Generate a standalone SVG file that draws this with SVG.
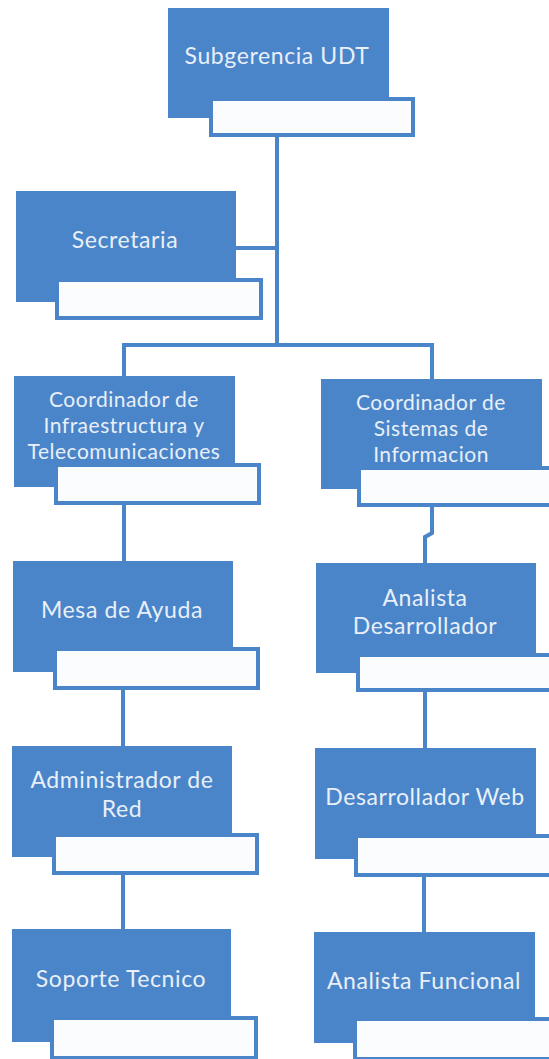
<svg xmlns="http://www.w3.org/2000/svg" width="549" height="1059" viewBox="0 0 549 1059">
<style>
.b{fill:#4a85c9}
.w{fill:#fbfcfe;stroke:#4a85c9;stroke-width:4}
.t{font-family:Lato,"Open Sans",sans-serif;font-size:23px;letter-spacing:0.6px;fill:#e9eff8;text-anchor:middle;dominant-baseline:central}
.s{font-size:21px;letter-spacing:0.5px}
.c{fill:none;stroke:#4a85c9;stroke-width:4}
</style>
<rect width="549" height="1059" fill="#ffffff"/>
<g id="connectors">
<path class="c" d="M277,137 V347 M123,345 H434 M124,343 V376 M432,343 V379 M236,248 H277"/>
<path class="c" d="M432,507 V533 L425,537 V563"/>
<path class="c" d="M124,505 V561 M123,690 V746 M123,875 V929"/>
<path class="c" d="M425,692 V748 M424,877 V932"/>
</g>
<g id="subgerencia">
<rect class="b" x="168" y="8" width="221" height="110"/>
<rect class="w" x="211" y="99" width="202" height="36"/>
<text class="t" x="277" y="55">Subgerencia UDT</text>
</g>
<g id="secretaria">
<rect class="b" x="16" y="191" width="220" height="111"/>
<rect class="w" x="57" y="280" width="204" height="38"/>
<text class="t" x="125" y="239">Secretaria</text>
</g>
<g id="coord-infra">
<rect class="b" x="14" y="376" width="221" height="111"/>
<rect class="w" x="56" y="465" width="203" height="38"/>
<text class="t s" x="124" y="398">Coordinador de</text>
<text class="t s" x="124" y="424">Infraestructura y</text>
<text class="t s" x="124" y="450">Telecomunicaciones</text>
</g>
<g id="coord-sistemas">
<rect class="b" x="321" y="379" width="221" height="110"/>
<rect class="w" x="359" y="468" width="200" height="37"/>
<text class="t s" x="431" y="401">Coordinador de</text>
<text class="t s" x="431" y="427">Sistemas de</text>
<text class="t s" x="431" y="453">Informacion</text>
</g>
<g id="mesa-ayuda">
<rect class="b" x="13" y="561" width="220" height="111"/>
<rect class="w" x="55" y="649" width="203" height="39"/>
<text class="t" x="122" y="609">Mesa de Ayuda</text>
</g>
<g id="analista-desarrollador">
<rect class="b" x="316" y="563" width="220" height="110"/>
<rect class="w" x="358" y="655" width="200" height="35"/>
<text class="t" x="425" y="597">Analista</text>
<text class="t" x="425" y="625">Desarrollador</text>
</g>
<g id="administrador-red">
<rect class="b" x="12" y="746" width="220" height="111"/>
<rect class="w" x="54" y="835" width="203" height="38"/>
<text class="t" x="122" y="779">Administrador de</text>
<text class="t" x="122" y="808">Red</text>
</g>
<g id="desarrollador-web">
<rect class="b" x="315" y="748" width="221" height="111"/>
<rect class="w" x="356" y="836" width="200" height="39"/>
<text class="t" x="425" y="796">Desarrollador Web</text>
</g>
<g id="soporte-tecnico">
<rect class="b" x="12" y="929" width="219" height="113"/>
<rect class="w" x="52" y="1018" width="204" height="40"/>
<text class="t" x="121" y="978">Soporte Tecnico</text>
</g>
<g id="analista-funcional">
<rect class="b" x="314" y="932" width="221" height="111"/>
<rect class="w" x="355" y="1019" width="200" height="40"/>
<text class="t" x="424" y="980">Analista Funcional</text>
</g>
</svg>
